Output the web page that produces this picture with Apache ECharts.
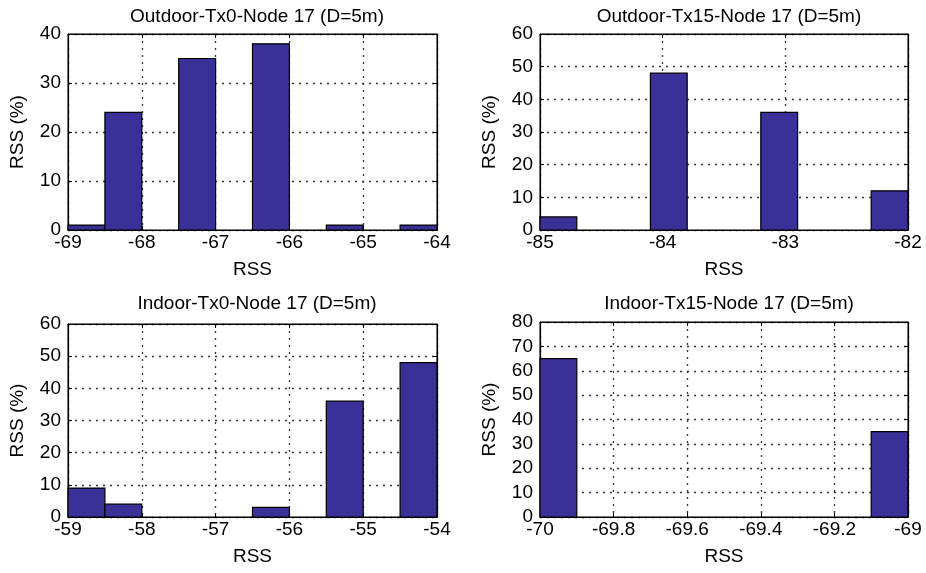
<!DOCTYPE html>
<html>
<head>
<meta charset="utf-8">
<script src="https://cdn.jsdelivr.net/npm/echarts@6/dist/echarts.min.js"></script>
<style>
  html, body { margin: 0; padding: 0; background: #fff; }
  #chart { width: 926px; height: 573px; }
</style>
</head>
<body>
<div id="chart"></div>
<script>
// bin edges and bar heights (RSS %) for each panel
const outTx0Edges = [-69, -68.5, -68, -67.5, -67, -66.5, -66, -65.5, -65, -64.5, -64];
const outTx0Counts = [1, 24, 0, 35, 0, 38, 0, 1, 0, 1];

const outTx15Edges = [-85, -84.7, -84.4, -84.1, -83.8, -83.5, -83.2, -82.9, -82.6, -82.3, -82];
const outTx15Counts = [4, 0, 0, 48, 0, 0, 36, 0, 0, 12];

const inTx0Edges = [-59, -58.5, -58, -57.5, -57, -56.5, -56, -55.5, -55, -54.5, -54];
const inTx0Counts = [9, 4, 0, 0, 0, 3, 0, 36, 0, 48];

const inTx15Edges = [-70, -69.9, -69.8, -69.7, -69.6, -69.5, -69.4, -69.3, -69.2, -69.1, -69];
const inTx15Counts = [65, 0, 0, 0, 0, 0, 0, 0, 0, 35];

const panelTitles = [
  'Outdoor-Tx0-Node 17 (D=5m)',
  'Outdoor-Tx15-Node 17 (D=5m)',
  'Indoor-Tx0-Node 17 (D=5m)',
  'Indoor-Tx15-Node 17 (D=5m)'
];

const FONT = '"Liberation Sans", Arial, sans-serif';
const FS = 19;
const BAR = '#3b2f98';

const panels = [
  { edges: outTx0Edges, counts: outTx0Counts, xMin: -69, xMax: -64, xStep: 1, yMax: 40,
    grid: { left: 68, top: 34, width: 369, height: 196 }, titleX: 252, titleY: 2 },
  { edges: outTx15Edges, counts: outTx15Counts, xMin: -85, xMax: -82, xStep: 1, yMax: 60,
    grid: { left: 540, top: 34, width: 368, height: 196 }, titleX: 724, titleY: 2 },
  { edges: inTx0Edges, counts: inTx0Counts, xMin: -59, xMax: -54, xStep: 1, yMax: 60,
    grid: { left: 68, top: 324, width: 369, height: 193 }, titleX: 252, titleY: 289 },
  { edges: inTx15Edges, counts: inTx15Counts, xMin: -70, xMax: -69, xStep: 0.2, yMax: 80,
    grid: { left: 540, top: 322, width: 368, height: 195 }, titleX: 724, titleY: 289 }
];

function binRows(edges, counts) {
  return counts.map((c, i) => [edges[i], edges[i + 1], c]);
}

const dotted = { color: '#333', width: 1.3, type: [2, 5] };
const grids = [], xAxes = [], yAxes = [], series = [], titles = [];

panels.forEach((p, i) => {
  grids.push(Object.assign({ show: true, borderColor: '#000', borderWidth: 1, backgroundColor: '#fff' }, p.grid));
  titles.push({
    text: panelTitles[i], left: p.titleX, top: p.titleY, textAlign: 'center',
    textStyle: { fontFamily: FONT, fontSize: FS, fontWeight: 'normal', color: '#000' }
  });
  xAxes.push({
    type: 'value', gridIndex: i, position: 'bottom', min: p.xMin, max: p.xMax, interval: p.xStep,
    name: 'RSS', nameLocation: 'middle', nameGap: 30,
    nameTextStyle: { fontFamily: FONT, fontSize: FS, color: '#000' },
    axisLine: { show: true, onZero: false, lineStyle: { color: '#000', width: 1.2 } },
    axisTick: { show: true, inside: true, length: 4, lineStyle: { color: '#000' } },
    axisLabel: { fontFamily: FONT, fontSize: FS, color: '#000', margin: 3, showMaxLabel: true },
    splitLine: { show: true, lineStyle: dotted }
  });
  xAxes.push({
    type: 'value', gridIndex: i, position: 'top', min: p.xMin, max: p.xMax, interval: p.xStep,
    axisLine: { show: true, onZero: false, lineStyle: { color: '#000', width: 1.2 } },
    axisTick: { show: true, inside: true, length: 4, lineStyle: { color: '#000' } },
    axisLabel: { show: false }, splitLine: { show: false }
  });
  yAxes.push({
    type: 'value', gridIndex: i, position: 'left', min: 0, max: p.yMax, interval: 10,
    name: 'RSS (%)', nameLocation: 'middle', nameGap: 41,
    nameTextStyle: { fontFamily: FONT, fontSize: FS, color: '#000' },
    axisLine: { show: true, onZero: false, lineStyle: { color: '#000', width: 1.2 } },
    axisTick: { show: true, inside: true, length: 4, lineStyle: { color: '#000' } },
    axisLabel: { fontFamily: FONT, fontSize: FS, color: '#000', margin: 7 },
    splitLine: { show: true, lineStyle: dotted }
  });
  yAxes.push({
    type: 'value', gridIndex: i, position: 'right', min: 0, max: p.yMax, interval: 10,
    axisLine: { show: true, onZero: false, lineStyle: { color: '#000', width: 1.2 } },
    axisTick: { show: true, inside: true, length: 4, lineStyle: { color: '#000' } },
    axisLabel: { show: false }, splitLine: { show: false }
  });
  series.push({
    type: 'custom',
    xAxisIndex: i * 2,
    yAxisIndex: i * 2,
    data: binRows(p.edges, p.counts),
    encode: { x: [0, 1], y: 2 },
    renderItem: function (params, api) {
      if (api.value(2) <= 0) return null;
      const p0 = api.coord([api.value(0), 0]);
      const p1 = api.coord([api.value(1), api.value(2)]);
      return {
        type: 'rect',
        shape: { x: p0[0], y: p1[1], width: p1[0] - p0[0], height: p0[1] - p1[1] },
        style: { fill: BAR, stroke: '#000', lineWidth: 1.2 }
      };
    }
  });
});

const chart = echarts.init(document.getElementById('chart'), null, { renderer: 'canvas' });
chart.setOption({
  backgroundColor: '#fff',
  animation: false,
  title: titles,
  grid: grids,
  xAxis: xAxes,
  yAxis: yAxes,
  series: series
});
</script>
</body>
</html>
